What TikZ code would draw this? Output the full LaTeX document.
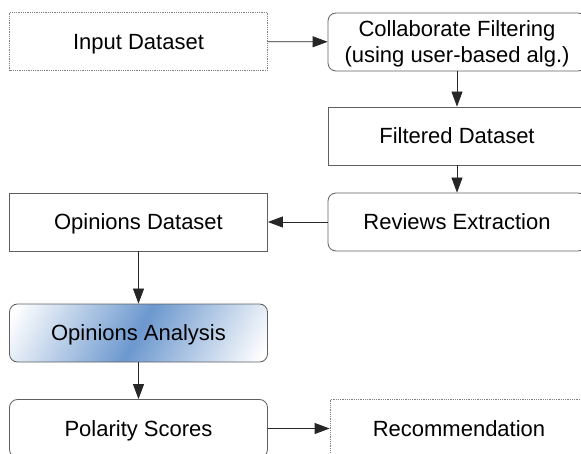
\documentclass[tikz,border=0pt]{standalone}
\usepackage{fontspec}
\setmainfont{Liberation Sans}
\usetikzlibrary{arrows.meta}

\definecolor{boxline}{RGB}{95,95,95}
\definecolor{shadeblue}{RGB}{108,152,206}

\pgfdeclareverticalshading{opband}{100bp}{color(0bp)=(white); color(18bp)=(white);
  color(34bp)=(shadeblue!50); color(50bp)=(shadeblue); color(66bp)=(shadeblue!50);
  color(82bp)=(white); color(100bp)=(white)}

\tikzset{
  stage/.style={draw=boxline, line width=0.8pt, minimum width=258pt, minimum height=58pt,
    inner sep=0pt, align=center, text height=15.8pt, text depth=0pt,
    font=\fontsize{22}{26}\selectfont},
  roundstage/.style={stage, rounded corners=8pt},
  dotstage/.style={stage, draw=gray, densely dotted},
  flow/.style={draw=black!85, line width=0.8pt, -{Triangle[length=15pt,width=11pt]}}
}

\begin{document}
\begin{tikzpicture}[x=1pt,y=1pt]

\clip (0,0) rectangle (581,453);

\node [dotstage] (input) at (138.5,411.5) {Input Dataset};
\node [roundstage, text height=41.8pt] (collab) at (457,411) {Collaborate Filtering\\(using user-based alg.)};
\node [stage] (filtered) at (457,317) {Filtered Dataset};
\node [roundstage] (reviews) at (457,231) {Reviews Extraction};
\node [stage] (opdata) at (138.5,231) {Opinions Dataset};
\node [roundstage, shading=opband, shading angle=62] (opanal) at (138.5,120) {Opinions Analysis};
\node [roundstage] (polarity) at (138.5,24.5) {Polarity Scores};
\node [dotstage] (recomm) at (459,24.5) {Recommendation};

\draw [flow] (input) -- (collab);
\draw [flow] (collab) -- (filtered);
\draw [flow] (filtered) -- (reviews);
\draw [flow] (reviews) -- (opdata);
\draw [flow] (opdata) -- (opanal);
\draw [flow] (opanal) -- (polarity);
\draw [flow] (polarity) -- (recomm);

\end{tikzpicture}
\end{document}
